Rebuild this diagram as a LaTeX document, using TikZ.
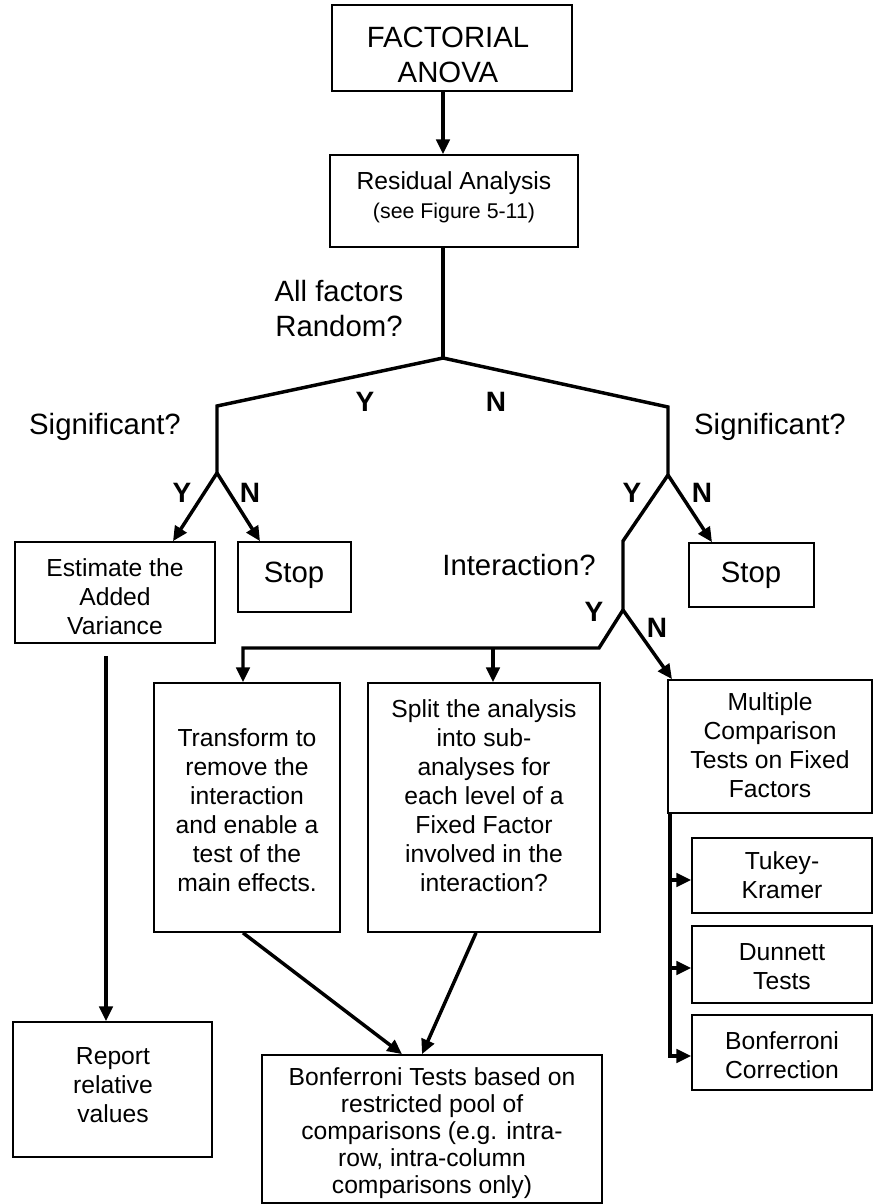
\documentclass[tikz,border=0pt]{standalone}
\usepackage{fontspec}
\setmainfont{Liberation Sans}
\usetikzlibrary{arrows.meta}
\newcommand\bx[5]{\node[box,minimum width={(#4-#2)*0.75pt},minimum height={(#5-#3)*0.75pt}] (#1) at ({(#2+#4)/2},{(#3+#5)/2}) {};}
\begin{document}
\begin{tikzpicture}[x=0.75pt,y=-0.75pt,
  box/.style={draw,line width=1.3pt,rectangle,inner sep=0pt},
  btxt/.style={font=\fontsize{18.5}{21.75}\selectfont,align=center,inner sep=0pt},
  lbl/.style={font=\fontsize{22}{26.25}\selectfont,align=center,inner sep=0pt},
  yn/.style={font=\fontsize{21}{24}\selectfont\bfseries,inner sep=0pt},
  conn/.style={line width=2.6pt,line join=miter},
  arr/.style={conn,-{Triangle[length=11pt,width=10pt]}},
]
\useasboundingbox (0,0) rectangle (875,1204);
% boxes
\bx{fact}{332}{5}{572}{91}
\bx{resid}{330}{155}{578}{247}
\bx{est}{15}{542}{215}{643}
\bx{stopL}{238}{542}{351}{612}
\bx{stopR}{689}{543}{814}{607}
\bx{trans}{154}{683}{340}{932}
\bx{split}{368}{683}{600}{932}
\bx{mult}{668}{680}{872}{813}
\bx{tukey}{692}{838}{872}{913}
\bx{dunn}{692}{926}{872}{1003}
\bx{bcorr}{692}{1015}{872}{1090}
\bx{report}{13}{1022}{212}{1157}
\bx{bonf}{262}{1055}{602}{1203}
% box texts
\node[lbl] (fact-t) at (448,55) {FACTORIAL\\ANOVA};
\node[btxt] (resid-t1) at (454,183) {Residual Analysis};
\node[btxt,font=\fontsize{16}{19}\selectfont] (resid-t2) at (454,213) {(see Figure 5-11)};
\node[btxt] (est-t) at (115,597) {Estimate the\\Added\\Variance};
\node[lbl] (stopL-t) at (294,575) {Stop};
\node[lbl] (stopR-t) at (751,575) {Stop};
\node[btxt] (trans-t) at (247,810) {Transform to\\remove the\\interaction\\and enable a\\test of the\\main effects.};
\node[btxt] (split-t) at (484,796) {Split the analysis\\into sub-\\analyses for\\each level of a\\Fixed Factor\\involved in the\\interaction?};
\node[btxt] (mult-t) at (770,745) {Multiple\\Comparison\\Tests on Fixed\\Factors};
\node[btxt] (tukey-t) at (782,875) {Tukey-\\Kramer};
\node[btxt] (dunn-t) at (782,967) {Dunnett\\Tests};
\node[btxt] (bcorr-t) at (782,1055) {Bonferroni\\Correction};
\node[btxt] (report-t) at (113,1085) {Report\\relative\\values};
\node[btxt,font=\fontsize{18.5}{20.25}\selectfont] (bonf-t) at (432,1133) {Bonferroni Tests based on\\restricted pool of\\comparisons (e.g. intra-\\row, intra-column\\comparisons only)};
% question labels
\node[lbl] (allf) at (339,309) {All factors\\Random?};
\node[lbl] (sigL) at (105,427) {Significant?};
\node[lbl] (sigR) at (770,427) {Significant?};
\node[lbl] (inter) at (519,565) {Interaction?};
% Y/N labels
\node[yn] (y1) at (365,402) {Y};
\node[yn] (n1) at (496,402) {N};
\node[yn] (yL) at (182,493) {Y};
\node[yn] (nL) at (250,493) {N};
\node[yn] (yR) at (632,493) {Y};
\node[yn] (nR) at (702,493) {N};
\node[yn] (y2) at (594,612) {Y};
\node[yn] (n2) at (657,628) {N};
% coordinates
\coordinate (trunk) at (443,0);
\coordinate (j0) at (443,358);
\coordinate (jL) at (217,406);
\coordinate (jR) at (668,407);
\coordinate (sL) at (217,473);
\coordinate (sR) at (668,475);
\coordinate (xa) at (173,0);
\coordinate (xb) at (260,0);
\coordinate (xc) at (712,0);
\coordinate (r1) at (623,541);
\coordinate (r2) at (623,610);
\coordinate (r3) at (599,648);
\coordinate (hL) at (243,648);
\coordinate (hM) at (493,648);
\coordinate (xm) at (672,0);
\coordinate (xe) at (106,0);
\coordinate (t1) at (243,0);
\coordinate (b1) at (402,0);
\coordinate (t2) at (476,0);
\coordinate (b2) at (422,0);
\coordinate (mx) at (670,0);
\coordinate (ya) at (0,880);
\coordinate (yb) at (0,968);
\coordinate (yc) at (0,1056);
% connectors
\draw[arr] (fact.south -| trunk) -- (resid.north -| trunk);
\draw[conn] (resid.south -| trunk) -- (j0);
\draw[conn] (sL) -- (jL) -- (j0) -- (jR) -- (sR);
\draw[arr] (sL) -- (est.north -| xa);
\draw[arr] (sL) -- (stopL.north -| xb);
\draw[arr] (sR) -- (stopR.north -| xc);
\draw[conn] (sR) -- (r1) -- (r2);
\draw[arr] (r2) -- (r3) -- (hL) -- (trans.north -| hL);
\draw[arr] (hM) -- (split.north -| hM);
\draw[arr] (r2) -- (mult.north -| xm);
\draw[arr,shorten <=9pt] (est.south -| xe) -- (report.north -| xe);
\draw[arr] (trans.south -| t1) -- (bonf.north -| b1);
\draw[arr] (split.south -| t2) -- (bonf.north -| b2);
\draw[arr] (mult.south -| mx) -- (mx |- yc) -- (bcorr.west |- yc);
\draw[arr] (mx |- ya) -- (tukey.west |- ya);
\draw[arr] (mx |- yb) -- (dunn.west |- yb);
\end{tikzpicture}
\end{document}
